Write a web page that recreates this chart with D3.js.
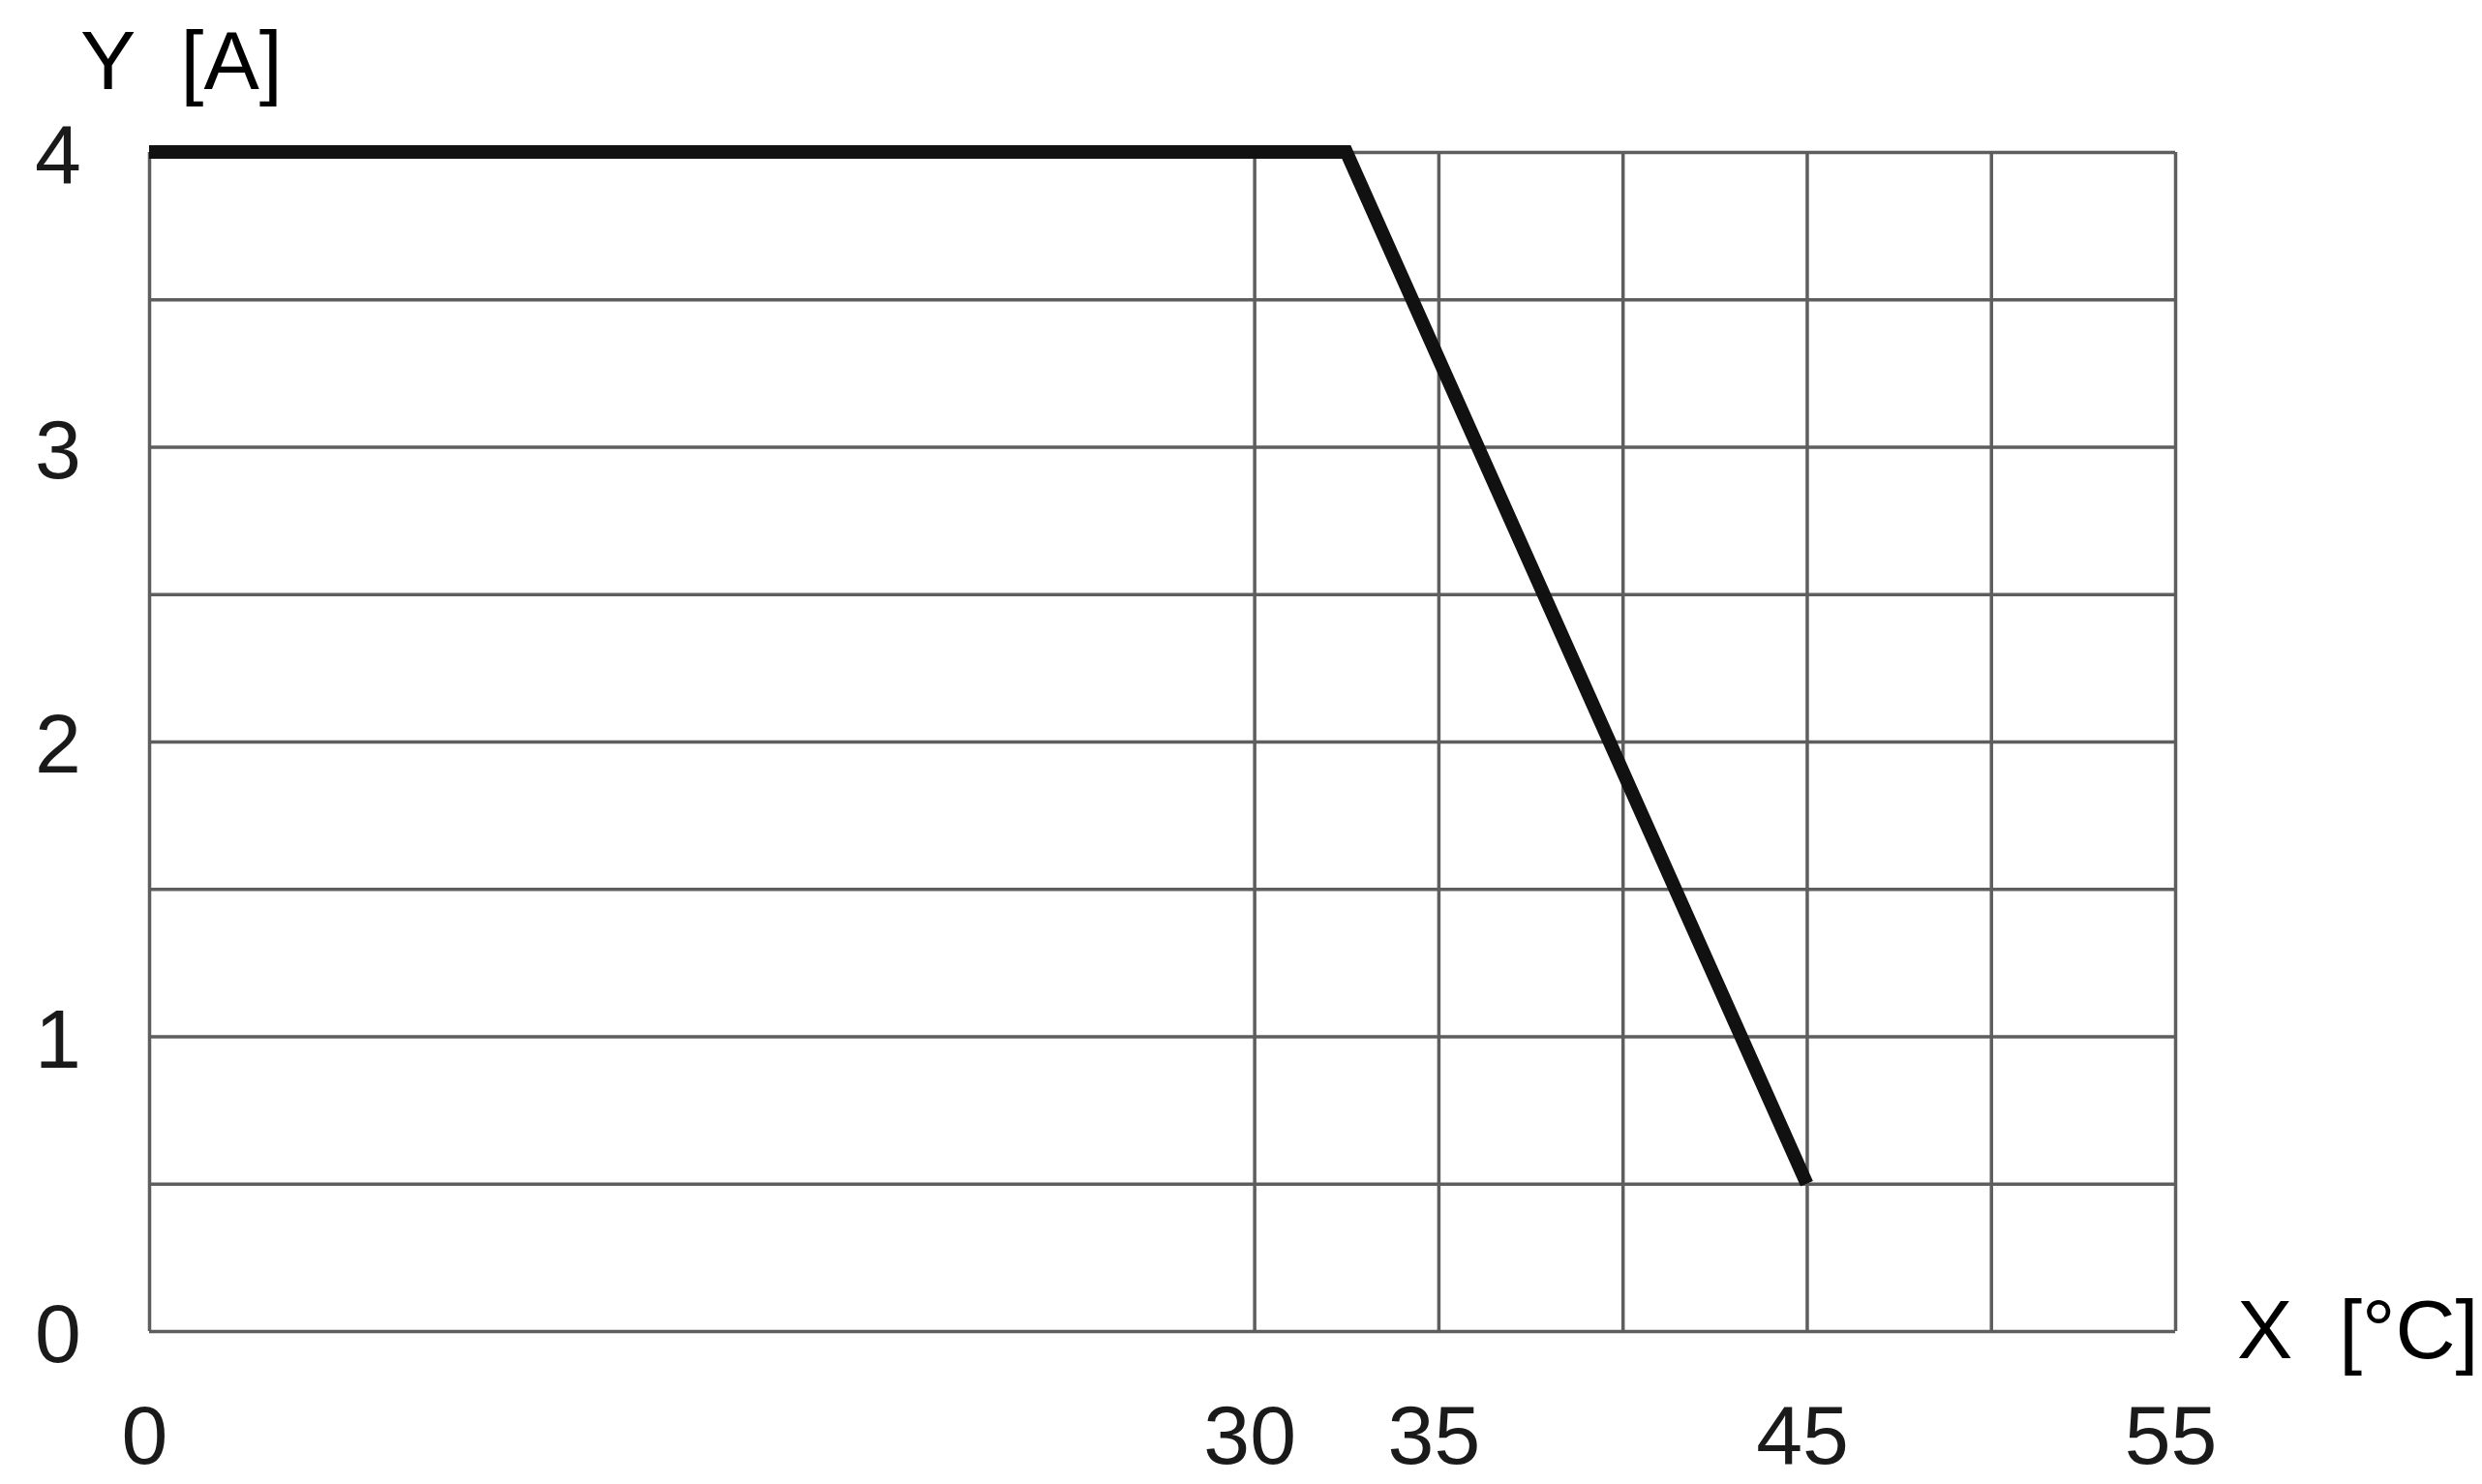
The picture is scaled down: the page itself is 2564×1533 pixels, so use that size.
<!DOCTYPE html>
<html>
<head>
<meta charset="utf-8">
<script src="https://cdn.jsdelivr.net/npm/d3@7"></script>
<style>
html,body{margin:0;padding:0;background:#fff;}
svg{display:block;}
</style>
</head>
<body>
<svg id="chart" width="2564" height="1533"></svg>
<script>
// ---- data ----
const xGridValues = [0, 30, 35, 40, 45, 50, 55];
const xTickLabels = [0, 30, 35, 45, 55];
const yGridValues = [0, 0.5, 1, 1.5, 2, 2.5, 3, 3.5, 4];
const yTickLabels = [0, 1, 2, 3, 4];
const seriesX = [0, 32.5, 45];
const seriesY = [4, 4, 0.5];
const xTitle = "X  [°C]";
const yTitle = "Y  [A]";

// ---- layout ----
const plotL = 154, plotR = 2247, plotT = 157, plotB = 1375;
const svg = d3.select("#chart");
const x = d3.scaleLinear().domain([0, 55]).range([plotL, plotR]);
const y = d3.scaleLinear().domain([0, 4]).range([plotB, plotT]);
const font = "'Liberation Sans', Arial, Helvetica, sans-serif";
const gridColor = "#5e5e5e";

// vertical grid lines
const gx = svg.append("g").attr("transform", `translate(0,${plotB})`)
  .call(d3.axisBottom(x).tickValues(xGridValues).tickSize(-(plotB - plotT)).tickFormat(""));
gx.select(".domain").remove();
gx.selectAll("line").attr("stroke", gridColor).attr("stroke-width", 3.5);

// horizontal grid lines
const gy = svg.append("g").attr("transform", `translate(${plotL},0)`)
  .call(d3.axisLeft(y).tickValues(yGridValues).tickSize(-(plotR - plotL)).tickFormat(""));
gy.select(".domain").remove();
gy.selectAll("line").attr("stroke", gridColor).attr("stroke-width", 3.5);

// x tick labels
const lx = svg.append("g").attr("transform", `translate(0,${plotB})`)
  .call(d3.axisBottom(x).tickValues(xTickLabels).tickSize(0).tickPadding(0).tickFormat(d3.format("d")));
lx.select(".domain").remove();
lx.selectAll("text")
  .attr("font-family", font).attr("font-size", 86).attr("fill", "#1a1a1a")
  .attr("dy", null).attr("y", 137).attr("dx", -5);

// y tick labels
const ly = svg.append("g").attr("transform", `translate(${plotL},0)`)
  .call(d3.axisLeft(y).tickValues(yTickLabels).tickSize(0).tickPadding(0).tickFormat(d3.format("d")));
ly.select(".domain").remove();
ly.selectAll("text")
  .attr("font-family", font).attr("font-size", 86).attr("fill", "#1a1a1a")
  .attr("text-anchor", "middle").attr("x", -94).attr("dy", "0.37em");

// data line
const pts = seriesX.map((v, i) => [v, seriesY[i]]);
svg.append("path")
  .datum(pts)
  .attr("d", d3.line().x(d => x(d[0])).y(d => y(d[1])))
  .attr("fill", "none").attr("stroke", "#111").attr("stroke-width", 14)
  .attr("stroke-linejoin", "miter").attr("stroke-linecap", "butt");

// axis titles
svg.append("text").text(yTitle)
  .attr("x", 83).attr("y", 92)
  .attr("font-family", font).attr("font-size", 86).attr("fill", "#000")
  .style("white-space", "pre");
svg.append("text").text(xTitle)
  .attr("x", 2311).attr("y", 1403)
  .attr("font-family", font).attr("font-size", 86).attr("fill", "#000")
  .style("white-space", "pre");
</script>
</body>
</html>
